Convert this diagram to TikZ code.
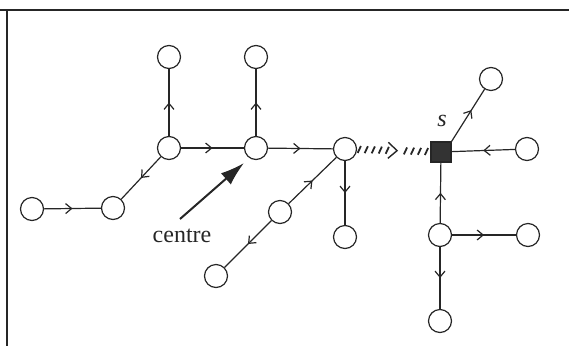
\documentclass[tikz,border=0pt]{standalone}
\usepackage{fontspec}
\setmainfont{Liberation Serif}
\usetikzlibrary{arrows.meta,decorations.markings}

\begin{document}
\begin{tikzpicture}[x=1pt, y=-1pt, line width=1.2pt, color=black!85,
    font=\fontsize{24}{28}\selectfont,
    vertex/.style={circle, draw, minimum size=23pt, inner sep=0pt},
    root/.style={rectangle, draw, fill=black!80, minimum size=20pt, inner sep=0pt},
    flow/.style={postaction=decorate, decoration={markings,
        mark=at position #1 with {\arrow{Straight Barb[length=6pt,width=10pt]}}}},
    flow/.default=0.5,
    hatch/.style={decorate, decoration={markings,
        mark=between positions 0.03 and 0.44 step 7pt with {\draw[line width=1.8pt] (-1.5pt,-3.5pt) -- (1.5pt,3.5pt);},
        mark=at position 0.56 with {\arrow[line width=1.4pt]{Straight Barb[length=9pt,width=16pt]}},
        mark=between positions 0.66 and 0.98 step 7pt with {\draw[line width=1.8pt] (-1.5pt,-3.5pt) -- (1.5pt,3.5pt);}}},
    pointer/.style={line width=2pt, -{Latex[length=24pt,width=15pt]}}]
    \useasboundingbox (0,0) rectangle (569,346);
    % Frame
    \draw[line width=1.5pt] (0,10) -- (569,10);
    \draw[line width=1.5pt] (7,10) -- (7,346);
    % Nodes
    \node[vertex] (A) at (32,209) {};
    \node[vertex] (B) at (113,208) {};
    \node[vertex] (C) at (169,148) {};
    \node[vertex] (D) at (169,57) {};
    \node[vertex] (E) at (256,148) {};
    \node[vertex] (F) at (256,57) {};
    \node[vertex] (G) at (345,149) {};
    \node[vertex] (H) at (345,237) {};
    \node[vertex] (I) at (280,212) {};
    \node[vertex] (J) at (216,276) {};
    \node[root] (S) at (441,152) {};
    \node[vertex] (K) at (491,79) {};
    \node[vertex] (L) at (527,149) {};
    \node[vertex] (M) at (440,235) {};
    \node[vertex] (N) at (528,235) {};
    \node[vertex] (O) at (440,321) {};
    \node[font=\fontsize{24}{28}\selectfont\itshape] (slabel) at (442,121) {s};
    \node (centre) at (182,236) {centre};
    \coordinate (ctail) at (180,219);
    \coordinate (ctip) at (244,163);
    % Edges
    \draw[flow] (A) -- (B);
    \draw[flow] (C) -- (B);
    \draw[flow] (C) -- (D);
    \draw[flow] (C) -- (E);
    \draw[flow] (E) -- (F);
    \draw[flow] (E) -- (G);
    \draw[flow] (G) -- (H);
    \draw[flow] (I) -- (G);
    \draw[flow] (I) -- (J);
    \path[hatch] (G) -- (S);
    \draw[flow=0.6] (S.north east) -- (K);
    \draw[flow] (L) -- (S);
    \draw[flow] (M) -- (S);
    \draw[flow] (M) -- (N);
    \draw[flow] (M) -- (O);
    \draw[pointer] (ctail) -- (ctip);
\end{tikzpicture}
\end{document}
